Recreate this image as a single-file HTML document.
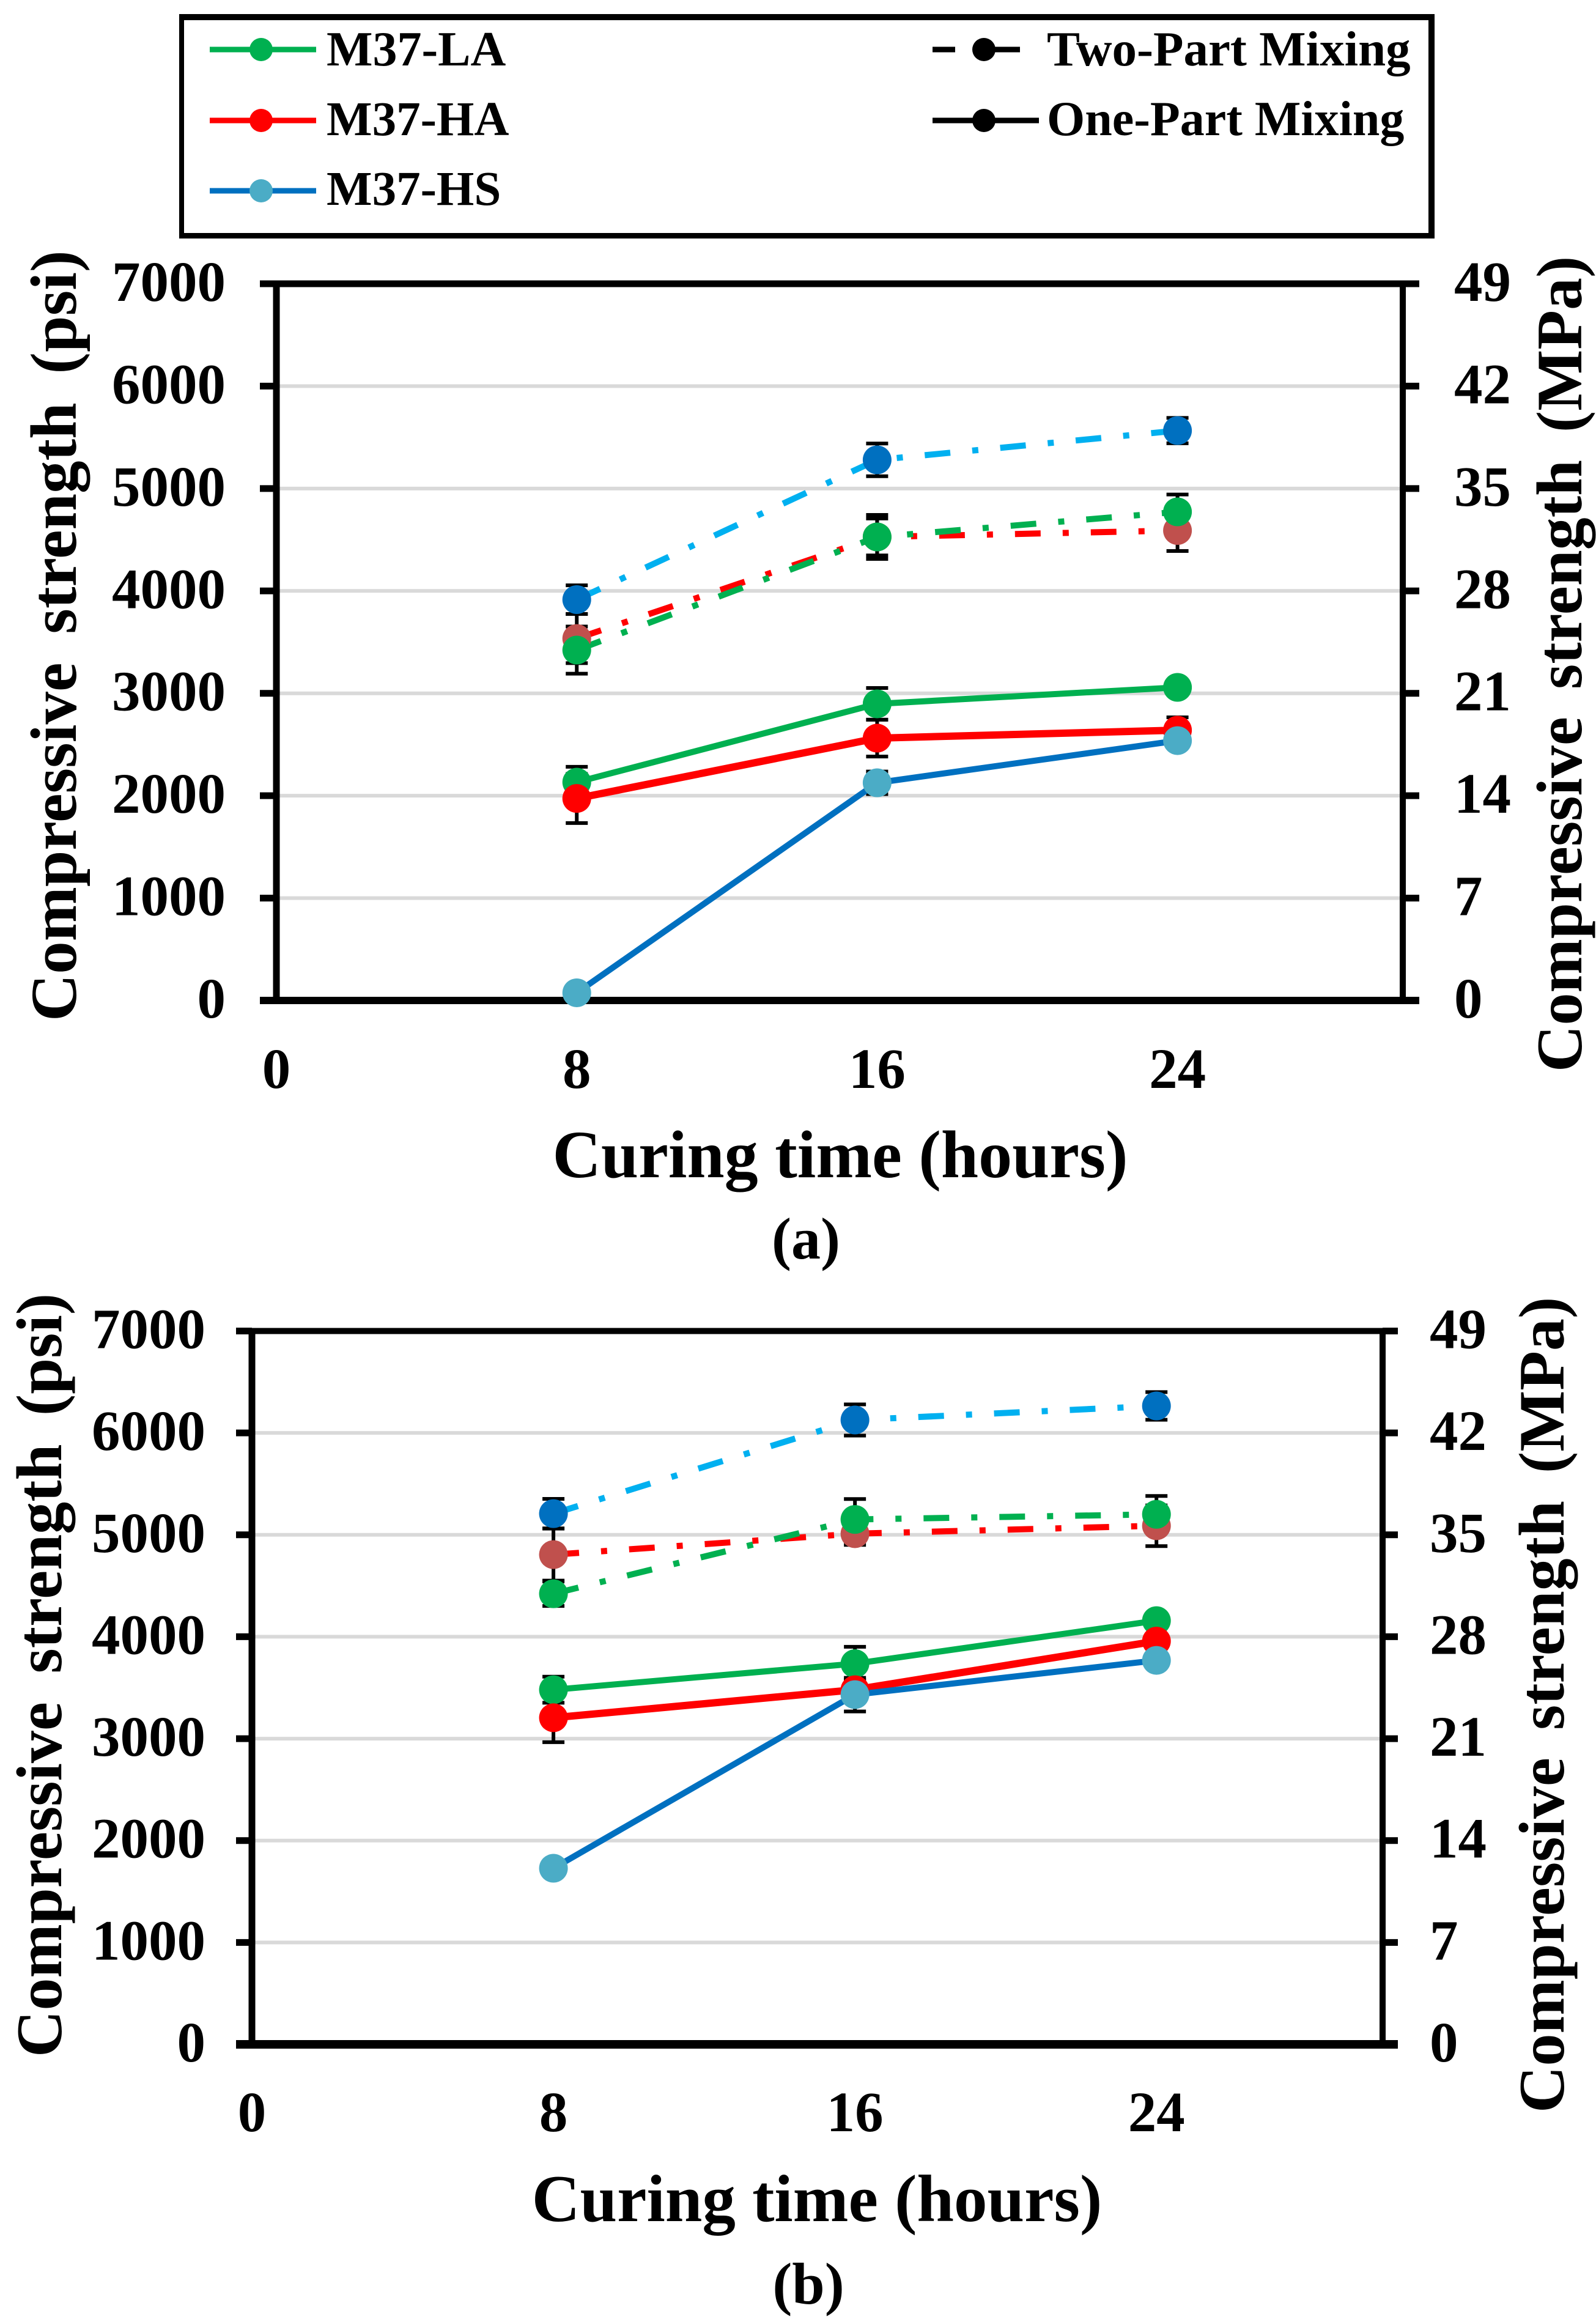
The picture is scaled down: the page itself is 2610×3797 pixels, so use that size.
<!DOCTYPE html>
<html lang="en">
<head>
<meta charset="utf-8">
<title>Compressive strength vs curing time</title>
<style>
  html, body { margin: 0; padding: 0; background: #ffffff; }
  svg { display: block; }
  text { font-family: "Liberation Serif", "Times New Roman", serif; font-weight: 700; fill: #000000; }
</style>
</head>
<body>
<svg id="figure" xmlns="http://www.w3.org/2000/svg" width="2610" height="3797" viewBox="0 0 2610 3797">
  <rect x="0" y="0" width="2610" height="3797" fill="#ffffff"/>
  <g>
    <rect x="293" y="23" width="2053" height="367" fill="#000000"/>
    <rect x="301" y="33" width="2035" height="348" fill="#ffffff"/>
    <g>
      <line x1="343" y1="81" x2="517" y2="81" stroke="#00B050" stroke-width="9"/>
      <circle cx="427" cy="81" r="19" fill="#00B050"/>
      <text x="534" y="107" font-size="80">M37-LA</text>
    </g>
    <g>
      <line x1="343" y1="197" x2="517" y2="197" stroke="#FF0000" stroke-width="9"/>
      <circle cx="427" cy="197" r="19" fill="#FF0000"/>
      <text x="534" y="221" font-size="79">M37-HA</text>
    </g>
    <g>
      <line x1="343" y1="312" x2="517" y2="312" stroke="#0070C0" stroke-width="9"/>
      <circle cx="427" cy="312" r="19" fill="#4BACC6"/>
      <text x="534" y="335" font-size="79">M37-HS</text>
    </g>
    <g>
      <line x1="1525" y1="81" x2="1562" y2="81" stroke="#000000" stroke-width="9"/>
      <line x1="1625" y1="81" x2="1668" y2="81" stroke="#000000" stroke-width="9"/>
      <circle cx="1609" cy="81" r="19" fill="#000000"/>
      <text x="1712" y="107" font-size="81">Two-Part Mixing</text>
    </g>
    <g>
      <line x1="1525" y1="197" x2="1699" y2="197" stroke="#000000" stroke-width="9"/>
      <circle cx="1609" cy="197" r="19" fill="#000000"/>
      <text x="1712" y="221" font-size="80">One-Part Mixing</text>
    </g>
  </g>
  <g id="panel-a"></g>
  <g id="panel-b"></g>
  <text x="1318" y="2058" font-size="96" text-anchor="middle">(a)</text>
  <text x="1322" y="3767" font-size="96" text-anchor="middle">(b)</text>
</svg>
<script>
// Shared axes
const hours = [8, 16, 24];
const xTickLabels = [0, 8, 16, 24];
const psiTicks = [0, 1000, 2000, 3000, 4000, 5000, 6000, 7000];
const mpaTicks = [0, 7, 14, 21, 28, 35, 42, 49];

// Panel (a) values (psi) and error half-widths
const aTwoHS = [3915, 5280, 5566];
const aTwoHSErr = [140, 160, 124];
const aTwoHA = [3535, 4527, 4590];
const aTwoHAErr = [240, 180, 200];
const aTwoLA = [3422, 4527, 4772];
const aTwoLAErr = [230, 215, 170];
const aOneLA = [2132, 2897, 3058];
const aOneLAErr = [150, 155, 0];
const aOneHA = [1973, 2562, 2640];
const aOneHAErr = [240, 180, 125];
const aOneHS = [75, 2126, 2538];
const aOneHSErr = [0, 110, 0];

// Panel (b) values (psi) and error half-widths
const bTwoHS = [5208, 6127, 6265];
const bTwoHSErr = [145, 153, 136];
const bTwoHA = [4806, 5011, 5089];
const bTwoHAErr = [255, 110, 200];
const bTwoLA = [4422, 5151, 5201];
const bTwoLAErr = [120, 200, 180];
const bOneLA = [3480, 3736, 4158];
const bOneLAErr = [128, 165, 0];
const bOneHA = [3205, 3480, 3957];
const bOneHAErr = [240, 100, 0];
const bOneHS = [1728, 3432, 3768];
const bOneHSErr = [0, 165, 0];

const NS = 'http://www.w3.org/2000/svg';
const DASHDOT = '42 36 10 36';

function make(parent, tag, attrs, content) {
  const el = document.createElementNS(NS, tag);
  for (const k in attrs) el.setAttribute(k, attrs[k]);
  if (content !== undefined) el.textContent = content;
  parent.appendChild(el);
  return el;
}

function drawPanel(host, layout, seriesList) {
  const xScale = function (h) { return layout.x0 + (layout.x1 - layout.x0) * h / 30; };
  const yScale = function (v) { return layout.y0 - (layout.y0 - layout.y1) * v / 7000; };

  // Gridlines
  psiTicks.forEach(function (t) {
    if (t === 0 || t === 7000) return;
    const g = make(host, 'line', { x1: layout.x0, x2: layout.x1, y1: yScale(t), y2: yScale(t), stroke: '#D9D9D9', 'stroke-width': 6 });
    
    
  });

  // Error bars
  seriesList.forEach(function (s) {
    hours.forEach(function (h, i) {
      const e = s.err[i];
      if (!e) return;
      const cx = xScale(h);
      const top = yScale(s.values[i] + e);
      const bot = yScale(s.values[i] - e);
      const stem = make(host, 'line', { x1: cx, x2: cx, y1: top, y2: bot, stroke: '#000000', 'stroke-width': 6 });
      
      
      const capTop = make(host, 'line', { x1: cx - 18, x2: cx + 18, y1: top, y2: top, stroke: '#000000', 'stroke-width': 6 });
      
      
      const capBot = make(host, 'line', { x1: cx - 18, x2: cx + 18, y1: bot, y2: bot, stroke: '#000000', 'stroke-width': 6 });
      
      
    });
  });

  // Axis frame
  const frame = [
    ['top-axis', layout.tickL, yScale(7000), layout.tickR, yScale(7000), layout.topW],
    ['bottom-axis', layout.tickL, yScale(0), layout.tickR, yScale(0), layout.botW],
    ['left-axis', layout.x0, yScale(7000), layout.x0, yScale(0), 11],
    ['right-axis', layout.x1, yScale(7000), layout.x1, yScale(0), 10]
  ];
  frame.forEach(function (f) {
    const ln = make(host, 'line', { x1: f[1], y1: f[2], x2: f[3], y2: f[4], stroke: '#000000', 'stroke-width': f[5] });
    
    
  });

  // Y ticks and labels
  psiTicks.forEach(function (t, i) {
    const y = yScale(t);
    const lt = make(host, 'line', { x1: layout.tickL, x2: layout.x0, y1: y, y2: y, stroke: '#000000', 'stroke-width': 11 });
    
    
    const rt = make(host, 'line', { x1: layout.x1, x2: layout.tickR, y1: y, y2: y, stroke: '#000000', 'stroke-width': 11 });
    
    
    const ll = make(host, 'text', { x: layout.psiLabelX, y: y + 28, 'font-size': 93, 'text-anchor': 'end' }, String(t));
    
    
    const rl = make(host, 'text', { x: layout.mpaLabelX, y: y + 28, 'font-size': 93 }, String(mpaTicks[i]));
    
    
  });

  // X tick labels
  xTickLabels.forEach(function (t) {
    const xl = make(host, 'text', { x: xScale(t), y: layout.xTickY, 'font-size': 93, 'text-anchor': 'middle' }, String(t));
    
    
  });

  // Axis titles
  const xt = make(host, 'text', { x: layout.xTitleX, y: layout.xTitleY, 'font-size': layout.xTitleSize, 'text-anchor': 'middle' }, 'Curing time (hours)');
  
  
  const yl = make(host, 'text', { transform: 'translate(' + layout.leftTitleX + ' ' + layout.leftTitleY + ') rotate(-90)', 'font-size': layout.leftTitleSize, 'word-spacing': 20 }, 'Compressive strength (psi)');
  
  
  const yr = make(host, 'text', { transform: 'translate(' + layout.rightTitleX + ' ' + layout.rightTitleY + ') rotate(-90)', 'font-size': 106, 'word-spacing': 18.5 }, 'Compressive strength (MPa)');
  
  

  // Series lines
  seriesList.forEach(function (s) {
    const pts = hours.map(function (h, i) { return xScale(h) + ',' + yScale(s.values[i]); }).join(' ');
    const attrs = { points: pts, fill: 'none', stroke: s.line, 'stroke-width': s.width };
    if (s.dashed) attrs['stroke-dasharray'] = DASHDOT;
    const pl = make(host, 'polyline', attrs);
    
    
  });

  // Series markers
  seriesList.forEach(function (s) {
    hours.forEach(function (h, i) {
      const c = make(host, 'circle', { cx: xScale(h), cy: yScale(s.values[i]), r: 23.5, fill: s.marker });
      
      
    });
  });
}

function buildSeries(twoHS, twoHSErr, twoHA, twoHAErr, twoLA, twoLAErr, oneLA, oneLAErr, oneHA, oneHAErr, oneHS, oneHSErr) {
  return [
    { name: 'two-part-m37-hs', values: twoHS, err: twoHSErr, line: '#00B0F0', marker: '#0070C0', width: 10, dashed: true },
    { name: 'two-part-m37-ha', values: twoHA, err: twoHAErr, line: '#FF0000', marker: '#C0504D', width: 10, dashed: true },
    { name: 'two-part-m37-la', values: twoLA, err: twoLAErr, line: '#00B050', marker: '#00B050', width: 10, dashed: true },
    { name: 'one-part-m37-la', values: oneLA, err: oneLAErr, line: '#00B050', marker: '#00B050', width: 10, dashed: false },
    { name: 'one-part-m37-ha', values: oneHA, err: oneHAErr, line: '#FF0000', marker: '#FF0000', width: 12, dashed: false },
    { name: 'one-part-m37-hs', values: oneHS, err: oneHSErr, line: '#0070C0', marker: '#4BACC6', width: 10, dashed: false }
  ];
}

drawPanel(document.getElementById('panel-a'), {
  x0: 452, x1: 2294, y0: 1636, y1: 464, tickL: 425, tickR: 2321, topW: 11, botW: 12,
  psiLabelX: 369, mpaLabelX: 2378, xTickY: 1779, xTitleX: 1374, xTitleY: 1925, xTitleSize: 110,
  leftTitleX: 124, leftTitleY: 1670, leftTitleSize: 107, rightTitleX: 2586, rightTitleY: 1753
}, buildSeries(aTwoHS, aTwoHSErr, aTwoHA, aTwoHAErr, aTwoLA, aTwoLAErr, aOneLA, aOneLAErr, aOneHA, aOneHAErr, aOneHS, aOneHSErr));

drawPanel(document.getElementById('panel-b'), {
  x0: 412, x1: 2261, y0: 3343, y1: 2176.5, tickL: 386, tickR: 2286, topW: 10, botW: 14,
  psiLabelX: 336, mpaLabelX: 2338, xTickY: 3485, xTitleX: 1336, xTitleY: 3632, xTitleSize: 109,
  leftTitleX: 100, leftTitleY: 3364, leftTitleSize: 106, rightTitleX: 2557, rightTitleY: 3455
}, buildSeries(bTwoHS, bTwoHSErr, bTwoHA, bTwoHAErr, bTwoLA, bTwoLAErr, bOneLA, bOneLAErr, bOneHA, bOneHAErr, bOneHS, bOneHSErr));
</script>
</body>
</html>
